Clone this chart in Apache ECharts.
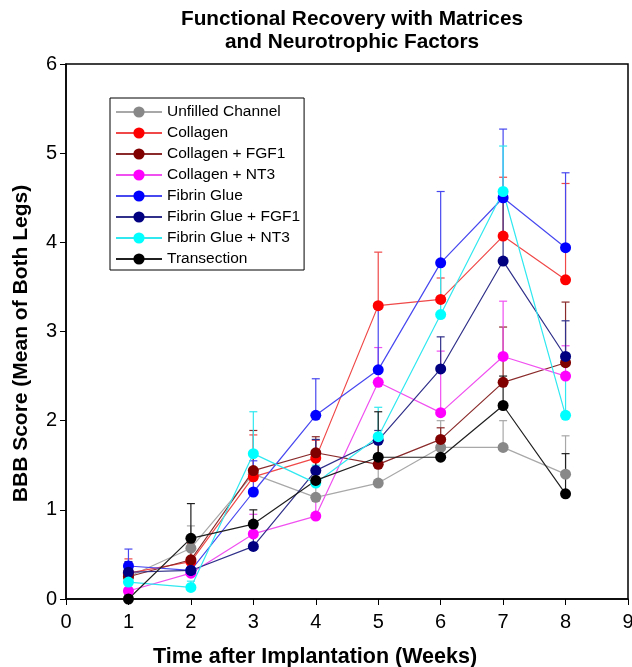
<!DOCTYPE html>
<html>
<head>
<meta charset="utf-8">
<script src="https://cdn.jsdelivr.net/npm/echarts@6/dist/echarts.min.js"></script>
<style>
  html, body { margin: 0; padding: 0; background: #fff; }
  #chart-container { width: 632px; height: 667px; }
</style>
</head>
<body>
<div id="chart-container"></div>
<script>
// weeks after implantation
var weeks = [1, 2, 3, 4, 5, 6, 7, 8];

// mean BBB score per group
var unfilled     = [0.25, 0.57, 1.40, 1.14, 1.30, 1.70, 1.70, 1.40];
var collagen     = [0.29, 0.42, 1.37, 1.58, 3.29, 3.36, 4.07, 3.58];
var collagenFgf1 = [0.25, 0.44, 1.44, 1.64, 1.51, 1.79, 2.43, 2.65];
var collagenNt3  = [0.09, 0.29, 0.73, 0.93, 2.43, 2.09, 2.72, 2.50];
var fibrin       = [0.37, 0.32, 1.20, 2.06, 2.57, 3.77, 4.50, 3.94];
var fibrinFgf1   = [0.30, 0.32, 0.59, 1.44, 1.78, 2.58, 3.79, 2.72];
var fibrinNt3    = [0.19, 0.13, 1.63, 1.30, 1.82, 3.19, 4.57, 2.06];
var transection  = [0.00, 0.68, 0.84, 1.33, 1.59, 1.59, 2.17, 1.18];

// top of the error bar (mean + error)
var unfilledErr     = [0.40, 0.82, 1.60, 1.40, 1.55, 2.00, 2.00, 1.83];
var collagenErr     = [0.45, 0.60, 1.84, 1.78, 3.89, 3.60, 4.73, 4.66];
var collagenFgf1Err = [0.40, 0.62, 1.89, 1.82, 1.75, 1.92, 3.05, 3.33];
var collagenNt3Err  = [0.20, 0.45, 0.95, 1.10, 2.82, 2.78, 3.34, 2.84];
var fibrinErr       = [0.56, 0.45, 1.55, 2.47, 3.25, 4.57, 5.27, 4.78];
var fibrinFgf1Err   = [0.42, 0.45, 0.80, 1.79, 1.89, 2.94, 4.50, 3.12];
var fibrinNt3Err    = [0.30, 0.20, 2.10, 1.50, 2.15, 3.80, 5.08, 2.50];
var transectionErr  = [0.05, 1.07, 1.00, 1.60, 2.10, 1.80, 2.50, 1.63];

var groups = [
    {name: 'Unfilled Channel',    color: '#888888', line: '#a8a8a8', data: unfilled,     err: unfilledErr},
    {name: 'Collagen',            color: '#ff0000', line: '#f04848', data: collagen,     err: collagenErr},
    {name: 'Collagen + FGF1',     color: '#800000', line: '#8a2a2a', data: collagenFgf1, err: collagenFgf1Err},
    {name: 'Collagen + NT3',      color: '#ff00ff', line: '#f050f0', data: collagenNt3,  err: collagenNt3Err},
    {name: 'Fibrin Glue',         color: '#0000ff', line: '#4848f0', data: fibrin,       err: fibrinErr},
    {name: 'Fibrin Glue + FGF1',  color: '#000080', line: '#30308a', data: fibrinFgf1,   err: fibrinFgf1Err},
    {name: 'Fibrin Glue + NT3',   color: '#00ffff', line: '#30e8f0', data: fibrinNt3,    err: fibrinNt3Err},
    {name: 'Transection',         color: '#000000', line: '#202020', data: transection,  err: transectionErr}
];

var series = [];
groups.forEach(function(g){
    var errData = [];
    for(let i=0;i<weeks.length;i++){
        errData.push([weeks[i], g.data[i], g.err[i]]);
    }
    series.push({
        type: 'custom',
        name: g.name + ' err',
        data: errData,
        z: 1,
        silent: true,
        renderItem: function(params, api){
            var base = api.coord([api.value(0), api.value(1)]);
            var top = api.coord([api.value(0), api.value(2)]);
            var hw = 4;
            return {
                type: 'group',
                children: [
                    {type: 'line', shape: {x1: base[0], y1: base[1], x2: top[0], y2: top[1]},
                     style: {stroke: g.line, lineWidth: 1.2}},
                    {type: 'line', shape: {x1: top[0]-hw, y1: top[1], x2: top[0]+hw, y2: top[1]},
                     style: {stroke: g.line, lineWidth: 1.2}}
                ]
            };
        }
    });
    var pts = [];
    for(let i=0;i<weeks.length;i++){
        pts.push([weeks[i], g.data[i]]);
    }
    series.push({
        type: 'line',
        name: g.name,
        data: pts,
        z: 3,
        symbol: 'circle',
        symbolSize: 11,
        itemStyle: {color: g.color},
        lineStyle: {color: g.line, width: 1.2},
        emphasis: {disabled: true}
    });
});

var option = {
    animation: false,
    textStyle: {fontFamily: 'Liberation Sans, Arial, sans-serif'},
    title: {
        text: 'Functional Recovery with Matrices\nand Neurotrophic Factors',
        left: 347,
        top: 3,
        textAlign: 'center',
        textStyle: {fontSize: 20.8, fontWeight: 'bold', color: '#000', lineHeight: 23}
    },
    legend: {
        data: groups.map(function(g){ return g.name; }),
        orient: 'vertical',
        left: 110,
        top: 98,
        borderColor: '#000',
        borderWidth: 1,
        padding: [6, 4, 3, 5],
        itemWidth: 46,
        itemHeight: 14,
        itemGap: 5,
        textStyle: {fontSize: 15.5, color: '#000'}
    },
    grid: {
        left: 66,
        right: 4,
        top: 64,
        bottom: 68,
        outerBoundsMode: 'none',
        containLabel: false,
        show: true,
        borderColor: '#000',
        borderWidth: 1.5
    },
    xAxis: {
        type: 'value',
        min: 0,
        max: 9,
        interval: 1,
        name: 'Time after Implantation (Weeks)',
        nameLocation: 'middle',
        nameGap: 47,
        nameTextStyle: {fontSize: 21.5, fontWeight: 'bold', color: '#000', padding: [0, 64, 0, 0]},
        axisLine: {lineStyle: {color: '#000', width: 1.5}},
        axisTick: {length: 6, lineStyle: {color: '#000'}},
        axisLabel: {fontSize: 20, color: '#000', margin: 13},
        splitLine: {show: false}
    },
    yAxis: {
        type: 'value',
        min: 0,
        max: 6,
        interval: 1,
        name: 'BBB Score (Mean of Both Legs)',
        nameLocation: 'middle',
        nameGap: 34,
        nameTextStyle: {fontSize: 21, fontWeight: 'bold', color: '#000', padding: [0, 24, 0, 0]},
        axisLine: {lineStyle: {color: '#000', width: 1.5}},
        axisTick: {length: 6, lineStyle: {color: '#000'}},
        axisLabel: {fontSize: 20, color: '#000', margin: 9},
        splitLine: {show: false}
    },
    series: series
};

var myChart = echarts.init(document.getElementById('chart-container'));
myChart.setOption(option);
</script>
</body>
</html>
